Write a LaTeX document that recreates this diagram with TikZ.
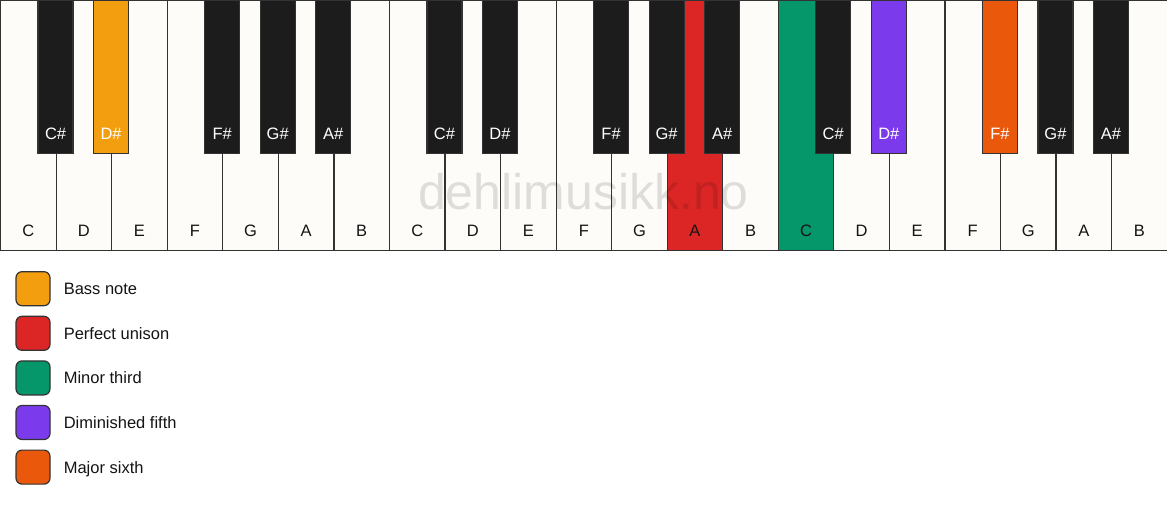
\documentclass[tikz,border=0pt]{standalone}
\usepackage{fontspec}
\setmainfont{Liberation Sans}
\usetikzlibrary{positioning}

\definecolor{keywhite}{HTML}{FDFCF8}
\definecolor{keyblack}{HTML}{1C1C1C}
\definecolor{keyedge}{HTML}{333333}
\definecolor{keytext}{HTML}{141414}
\definecolor{bass}{HTML}{F39E0F}
\definecolor{unison}{HTML}{DC2626}
\definecolor{minthird}{HTML}{059669}
\definecolor{dimfifth}{HTML}{7C3AED}
\definecolor{majsixth}{HTML}{EA580C}

\newcommand\keyfont{\fontsize{16.5}{19}\selectfont}

\tikzset{
  whitekey/.style={draw=keyedge, line width=1.2pt, fill=keywhite, anchor=north west,
    minimum width=55.55pt, minimum height=250pt, inner sep=0pt,
    label={[anchor=base, label distance=-14.5pt, text=keytext, font=\keyfont]south:#1}},
  blackkey/.style={draw=keyedge, line width=1.2pt, fill=keyblack, anchor=north,
    minimum width=35pt, minimum height=153pt, inner sep=0pt,
    label={[anchor=base, label distance=-15pt, text=white, font=\keyfont]south:#1}},
  legendbox/.style={draw=keyedge, line width=1.2pt, rounded corners=6pt,
    minimum size=34pt, inner sep=0pt},
  legendtext/.style={right=13pt of #1, inner sep=0pt, text=keytext, font=\keyfont,
    text height=12pt, text depth=0pt},
}

\begin{document}
\begin{tikzpicture}[x=1pt, y=-1pt]
\path[use as bounding box, fill=white] (0,0) rectangle (1167,506);

% white keys
\node[whitekey=C] (C1) at (0,0) {};
\node[whitekey=D] (D1) at (55.55,0) {};
\node[whitekey=E] (E1) at (111.1,0) {};
\node[whitekey=F] (F1) at (166.65,0) {};
\node[whitekey=G] (G1) at (222.2,0) {};
\node[whitekey=A] (A1) at (277.75,0) {};
\node[whitekey=B] (B1) at (333.3,0) {};
\node[whitekey=C] (C2) at (388.85,0) {};
\node[whitekey=D] (D2) at (444.4,0) {};
\node[whitekey=E] (E2) at (499.95,0) {};
\node[whitekey=F] (F2) at (555.5,0) {};
\node[whitekey=G] (G2) at (611.05,0) {};
\node[whitekey=A, fill=unison] (A2) at (666.6,0) {};
\node[whitekey=B] (B2) at (722.15,0) {};
\node[whitekey=C, fill=minthird] (C3) at (777.7,0) {};
\node[whitekey=D] (D3) at (833.25,0) {};
\node[whitekey=E] (E3) at (888.8,0) {};
\node[whitekey=F] (F3) at (944.35,0) {};
\node[whitekey=G] (G3) at (999.9,0) {};
\node[whitekey=A] (A3) at (1055.45,0) {};
\node[whitekey=B] (B3) at (1111,0) {};

% black keys
\node[blackkey=C\#] (CSharp1) at (55.55,0) {};
\node[blackkey=D\#, fill=bass] (DSharp1) at (111.1,0) {};
\node[blackkey=F\#] (FSharp1) at (222.2,0) {};
\node[blackkey=G\#] (GSharp1) at (277.75,0) {};
\node[blackkey=A\#] (ASharp1) at (333.3,0) {};
\node[blackkey=C\#] (CSharp2) at (444.4,0) {};
\node[blackkey=D\#] (DSharp2) at (499.95,0) {};
\node[blackkey=F\#] (FSharp2) at (611.05,0) {};
\node[blackkey=G\#] (GSharp2) at (666.6,0) {};
\node[blackkey=A\#] (ASharp2) at (722.15,0) {};
\node[blackkey=C\#] (CSharp3) at (833.25,0) {};
\node[blackkey=D\#, fill=dimfifth] (DSharp3) at (888.8,0) {};
\node[blackkey=F\#, fill=majsixth] (FSharp3) at (999.9,0) {};
\node[blackkey=G\#] (GSharp3) at (1055.45,0) {};
\node[blackkey=A\#] (ASharp3) at (1111,0) {};

\node[text=black, opacity=0.12, font=\fontsize{50}{58}\selectfont] (Watermark) at (583.5,192) {dehlimusikk.no};

% legend
\node[legendbox, fill=bass] (BassNote) at (33,288.7) {};
\node[legendbox, fill=unison, below=9.4pt of BassNote] (PerfectUnison) {};
\node[legendbox, fill=minthird, below=9.4pt of PerfectUnison] (MinorThird) {};
\node[legendbox, fill=dimfifth, below=9.4pt of MinorThird] (DiminishedFifth) {};
\node[legendbox, fill=majsixth, below=9.4pt of DiminishedFifth] (MajorSixth) {};
\node[legendtext=BassNote] (BassNoteText) {Bass note};
\node[legendtext=PerfectUnison] (PerfectUnisonText) {Perfect unison};
\node[legendtext=MinorThird] (MinorThirdText) {Minor third};
\node[legendtext=DiminishedFifth] (DiminishedFifthText) {Diminished fifth};
\node[legendtext=MajorSixth] (MajorSixthText) {Major sixth};

\end{tikzpicture}
\end{document}
